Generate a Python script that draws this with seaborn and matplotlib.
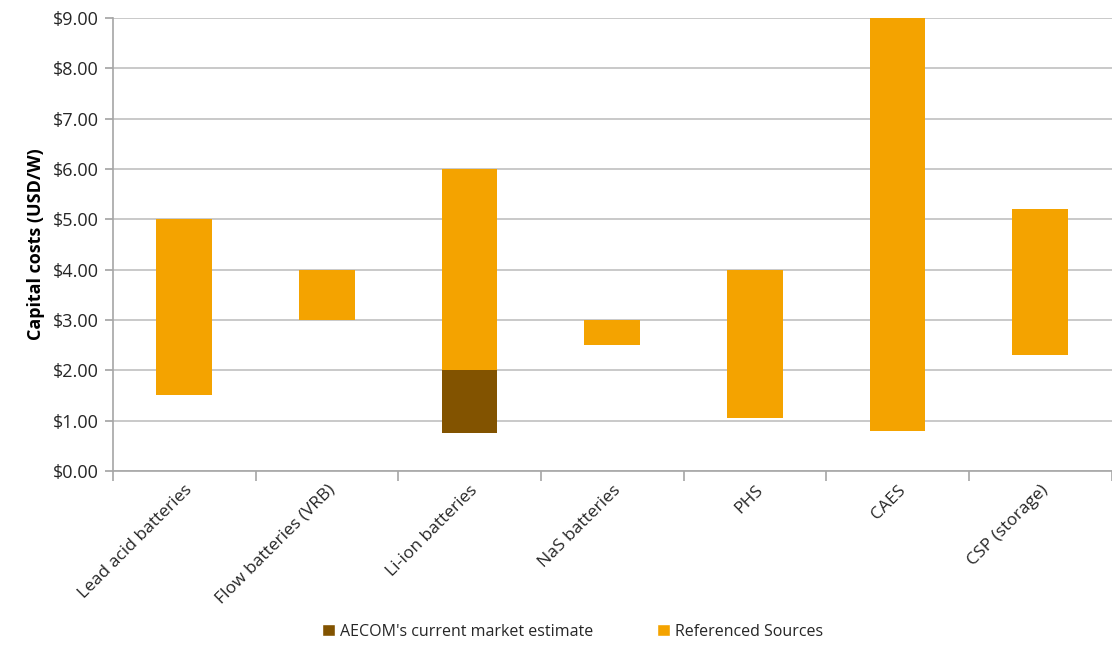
import matplotlib
matplotlib.use("Agg")
import matplotlib.pyplot as plt
import seaborn as sns
import pandas as pd
import numpy as np
from matplotlib.patches import Patch
from matplotlib.ticker import FuncFormatter, FixedLocator

categories = ["Lead acid batteries", "Flow batteries (VRB)", "Li-ion batteries",
              "NaS batteries", "PHS", "CAES", "CSP (storage)"]
ref_low = [1.5, 3.0, 2.0, 2.5, 1.05, 0.8, 2.3]
ref_high = [5.0, 4.0, 6.0, 3.0, 4.0, 9.0, 5.2]
aecom_cat = ["Li-ion batteries"]
aecom_low = [0.75]
aecom_high = [2.0]

ORANGE = "#F4A300"
BROWN = "#825300"

sns.set_theme(style="white")
plt.rcParams["font.family"] = ["Open Sans", "DejaVu Sans"]

ref_df = pd.DataFrame({"cat": categories,
                       "h": np.array(ref_high) - np.array(ref_low)})
ae_df = pd.DataFrame({"cat": aecom_cat,
                      "h": np.array(aecom_high) - np.array(aecom_low)})

fig = plt.figure(figsize=(11.12, 6.46), dpi=100)
ax = fig.add_axes([0.1016, 0.271, 0.898, 0.701])

sns.barplot(data=ref_df, x="cat", y="h", order=categories, bottom=list(ref_low),
            color=ORANGE, width=0.39, saturation=1, linewidth=0, ax=ax, zorder=3)
sns.barplot(data=ae_df, x="cat", y="h", order=categories, bottom=aecom_low[0],
            color=BROWN, width=0.39, saturation=1, linewidth=0, ax=ax, zorder=3)

ax.set_xlim(-0.5, len(categories) - 0.5)
ax.set_ylim(0, 9)
ax.set_yticks(np.arange(0, 10, 1))
ax.yaxis.set_major_formatter(FuncFormatter(lambda v, p: f"${v:.2f}"))
ax.grid(axis="y", color="#C0C0C0", linewidth=1.2, zorder=0)
ax.set_axisbelow(True)

for s in ["top", "right"]:
    ax.spines[s].set_visible(False)
for s in ["left", "bottom"]:
    ax.spines[s].set_color("#A6A6A6")
    ax.spines[s].set_linewidth(1.2)

ax.set_xlabel("")
ax.set_ylabel("Capital costs (USD/W)", fontsize=13, fontweight="bold", color="black", labelpad=6)
ax.tick_params(axis="y", labelsize=13, length=6, color="#A6A6A6", direction="out", left=True, pad=4)
ax.set_xticks(range(len(categories)))
ax.set_xticklabels(categories, rotation=45, ha="right", rotation_mode="anchor", fontsize=12.5)
ax.tick_params(axis="x", length=0, pad=8)
ax.xaxis.set_minor_locator(FixedLocator(np.arange(-0.5, len(categories), 1)))
ax.tick_params(axis="x", which="minor", length=7, color="#A6A6A6", width=1.2, bottom=True)

handles = [Patch(facecolor=BROWN, label="AECOM's current market estimate"),
           Patch(facecolor=ORANGE, label="Referenced Sources")]
fig.legend(handles=handles, loc="center", bbox_to_anchor=(0.515, 0.022), ncol=2, frameon=False,
           fontsize=11.5, handlelength=0.8, handleheight=0.8, handletextpad=0.3, columnspacing=4)

fig.savefig("out.png", dpi=100)
